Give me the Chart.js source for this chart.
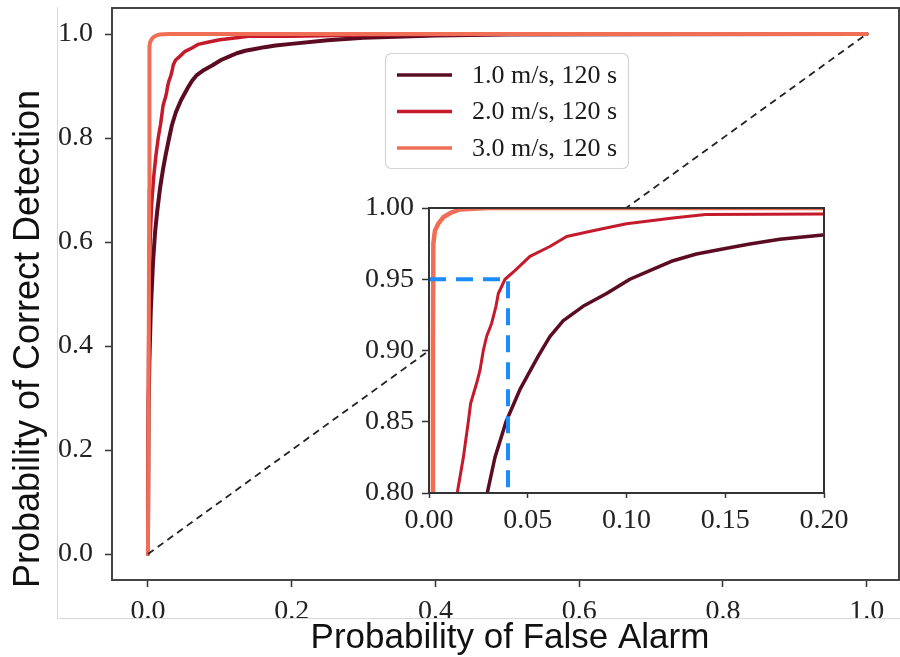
<!DOCTYPE html>
<html>
<head>
<meta charset="utf-8">
<script src="https://cdn.jsdelivr.net/npm/chart.js@4.4.1/dist/chart.umd.min.js"></script>
<style>
  html, body { margin: 0; padding: 0; background: #fff; }
  #wrap { position: relative; width: 900px; height: 657px; overflow: hidden; }
  #rocMain { position: absolute; left: 0; top: 0; }
  #rocZoom { position: absolute; left: 330px; top: 180px; }
</style>
</head>
<body>
<div id="wrap">
  <canvas id="rocMain" width="900" height="657"></canvas>
  <canvas id="rocZoom" width="540" height="360"></canvas>
</div>
<script>
// ROC curves, 120 s windows at three speeds
const speedLabels = ["1.0 m/s, 120 s", "2.0 m/s, 120 s", "3.0 m/s, 120 s"];

const pfa1 = [0, 0.001, 0.002, 0.004, 0.007, 0.010, 0.013, 0.017, 0.021, 0.025,
  0.0295, 0.0334, 0.039, 0.046, 0.0553, 0.0612, 0.068, 0.078, 0.0899, 0.1017,
  0.1118, 0.1236, 0.1354, 0.1487, 0.1624, 0.1776, 0.1994, 0.25, 0.30, 0.40,
  0.50, 0.70, 1.0];
const pd1 = [0, 0.29, 0.37, 0.47, 0.56, 0.62, 0.66, 0.705, 0.74, 0.77,
  0.80, 0.825, 0.85, 0.8725, 0.896, 0.9097, 0.921, 0.931, 0.940, 0.950,
  0.956, 0.963, 0.9677, 0.9712, 0.9747, 0.978, 0.981, 0.988, 0.993, 0.997,
  0.999, 0.9995, 1.0];

const pfa2 = [0, 0.0005, 0.0015, 0.003, 0.005, 0.008, 0.011, 0.0143, 0.0174, 0.0199,
  0.0211, 0.0241, 0.0258, 0.0275, 0.0292, 0.0317, 0.0339, 0.0351, 0.0385, 0.0435,
  0.0511, 0.0612, 0.0697, 0.083, 0.10, 0.1235, 0.14, 0.20, 0.30, 0.50, 1.0];
const pd2 = [0, 0.30, 0.50, 0.60, 0.67, 0.725, 0.765, 0.80, 0.825, 0.85,
  0.863, 0.877, 0.886, 0.90, 0.91, 0.919, 0.931, 0.94, 0.95, 0.956,
  0.966, 0.973, 0.98, 0.984, 0.989, 0.993, 0.9955, 0.9958, 0.998, 0.9995, 1.0];

const pfa3 = [0, 0.001, 0.0018, 0.002, 0.0022, 0.003, 0.0047, 0.0072, 0.0115, 0.0157, 0.03, 1.0];
const pd3 = [0, 0.35, 0.70, 0.90, 0.975, 0.984, 0.989, 0.9935, 0.997, 0.999, 1.0, 1.0];

// chance diagonal and the Pd = 0.95 operating point
const chancePfa = [0, 1];
const chancePd = [0, 1];
const markPfa = [0, 0.04, 0.04];
const markPd = [0.95, 0.95, 0.80];

const mainTicksX = [0, 0.2, 0.4, 0.6, 0.8, 1.0];
const mainTicksY = [0, 0.2, 0.4, 0.6, 0.8, 1.0];
const zoomTicksX = [0, 0.05, 0.10, 0.15, 0.20];
const zoomTicksY = [0.80, 0.85, 0.90, 0.95, 1.00];

const lineColors = ["#5c0c22", "#c41a2c", "#ef6e55"];

function pts(xs, ys) {
  return xs.map((x, i) => ({ x: x, y: ys[i] }));
}

function curveSets(widths) {
  const xs = [pfa1, pfa2, pfa3];
  const ys = [pd1, pd2, pd3];
  return speedLabels.map((lab, i) => ({
    label: lab,
    data: pts(xs[i], ys[i]),
    borderColor: lineColors[i],
    borderWidth: widths[i],
    showLine: true,
    pointRadius: 0,
    borderJoinStyle: "round",
    borderCapStyle: "round",
    order: 3 - i
  }));
}

const serif = "'Liberation Serif', 'Times New Roman', serif";
const sans = "'Liberation Sans', Arial, sans-serif";

function fixedTicks(values) {
  return function (scale) {
    scale.ticks = values.map(v => ({ value: v }));
  };
}

function axis(opts) {
  return {
    type: "linear",
    min: opts.min,
    max: opts.max,
    afterBuildTicks: fixedTicks(opts.ticks),
    afterFit: function (scale) {
      if (opts.width) scale.width = opts.width;
      if (opts.height) scale.height = opts.height;
      scale.paddingTop = 0;
      scale.paddingBottom = 0;
      scale.paddingLeft = 0;
      scale.paddingRight = 0;
    },
    border: { display: false },
    grid: {
      drawOnChartArea: false,
      drawTicks: true,
      tickLength: opts.tickLength,
      tickColor: "#333",
      tickWidth: 1.5
    },
    ticks: {
      autoSkip: false,
      maxRotation: 0,
      padding: opts.padding,
      color: "#222",
      font: { family: serif, size: 28 },
      callback: v => Number(v).toFixed(opts.digits)
    }
  };
}

// box around the plotting area
const framePlugin = {
  id: "frame",
  beforeDatasetsDraw(chart, args, o) {
    if (!o.fill) return;
    const a = chart.chartArea;
    const ctx = chart.ctx;
    ctx.save();
    ctx.fillStyle = o.fill;
    ctx.fillRect(a.left, a.top, a.right - a.left, a.bottom - a.top);
    ctx.restore();
  },
  afterDatasetsDraw(chart, args, o) {
    const a = chart.chartArea;
    const ctx = chart.ctx;
    ctx.save();
    ctx.strokeStyle = o.color || "#444";
    ctx.lineWidth = o.width || 2;
    ctx.strokeRect(a.left, a.top, a.right - a.left, a.bottom - a.top);
    ctx.restore();
  }
};

// axis titles, legend box and the thin panel edges
const decorPlugin = {
  id: "decor",
  afterDraw(chart) {
    const ctx = chart.ctx;
    ctx.save();

    ctx.strokeStyle = "#d9d9d9";
    ctx.lineWidth = 1;
    ctx.beginPath();
    ctx.moveTo(57.5, 7);
    ctx.lineTo(57.5, 618.5);
    ctx.lineTo(900, 618.5);
    ctx.stroke();

    ctx.fillStyle = "#111";
    ctx.font = "35px " + sans;
    ctx.textAlign = "center";
    ctx.textBaseline = "alphabetic";
    ctx.fillText("Probability of False Alarm", 510, 648);

    ctx.save();
    ctx.translate(39, 339);
    ctx.rotate(-Math.PI / 2);
    ctx.font = "36px " + sans;
    ctx.fillText("Probability of Correct Detection", 0, 0);
    ctx.restore();

    // legend
    const bx = 385, by = 53, bw = 243, bh = 115;
    ctx.beginPath();
    ctx.roundRect(bx + 0.5, by + 0.5, bw, bh, 6);
    ctx.fillStyle = "rgba(255,255,255,0.85)";
    ctx.fill();
    ctx.strokeStyle = "#d4d4d4";
    ctx.lineWidth = 1.2;
    ctx.stroke();

    ctx.font = "26px " + serif;
    ctx.textAlign = "left";
    ctx.textBaseline = "middle";
    speedLabels.forEach((lab, i) => {
      const y = 75 + i * 36.5;
      ctx.strokeStyle = lineColors[i];
      ctx.lineWidth = 3.5;
      ctx.beginPath();
      ctx.moveTo(397, y);
      ctx.lineTo(452, y);
      ctx.stroke();
      ctx.fillStyle = "#1a1a1a";
      ctx.fillText(lab, 472, y + 1);
    });
    ctx.restore();
  }
};

const mainSets = curveSets([4, 3.5, 4]);
mainSets.push({
  label: "chance",
  data: pts(chancePfa, chancePd),
  borderColor: "#222",
  borderWidth: 1.8,
  borderDash: [7, 5],
  showLine: true,
  pointRadius: 0,
  order: 0
});

new Chart(document.getElementById("rocMain"), {
  type: "scatter",
  data: { datasets: mainSets },
  options: {
    responsive: false,
    animation: false,
    events: [],
    layout: { padding: { top: 8, right: 1, left: 0, bottom: 0 } },
    plugins: {
      legend: { display: false },
      tooltip: { enabled: false },
      frame: { color: "#444", width: 2 }
    },
    scales: {
      x: axis({ min: -0.05, max: 1.045, ticks: mainTicksX, height: 77, tickLength: 7, padding: 8, digits: 1 }),
      y: axis({ min: -0.05, max: 1.05, ticks: mainTicksY, width: 112, tickLength: 7, padding: 12, digits: 1 })
    }
  },
  plugins: [framePlugin, decorPlugin]
});

// zoomed view of the upper-left corner
const zoomSets = curveSets([3.5, 3, 4.5]);
zoomSets.push({
  label: "Pd 0.95",
  data: pts(markPfa, markPd),
  borderColor: "#1a8cff",
  borderWidth: 4,
  borderDash: [17, 10],
  showLine: true,
  pointRadius: 0,
  order: 0
});

new Chart(document.getElementById("rocZoom"), {
  type: "scatter",
  data: { datasets: zoomSets },
  options: {
    responsive: false,
    animation: false,
    events: [],
    layout: { padding: { top: 28, right: 46, left: 0, bottom: 0 } },
    plugins: {
      legend: { display: false },
      tooltip: { enabled: false },
      frame: { color: "#333", width: 2, fill: "#fff" }
    },
    scales: {
      x: axis({ min: 0, max: 0.2, ticks: zoomTicksX, height: 47, tickLength: 5, padding: 6, digits: 2 }),
      y: axis({ min: 0.8, max: 1.0, ticks: zoomTicksY, width: 99, tickLength: 7, padding: 8, digits: 2 })
    }
  },
  plugins: [framePlugin]
});
</script>
</body>
</html>
